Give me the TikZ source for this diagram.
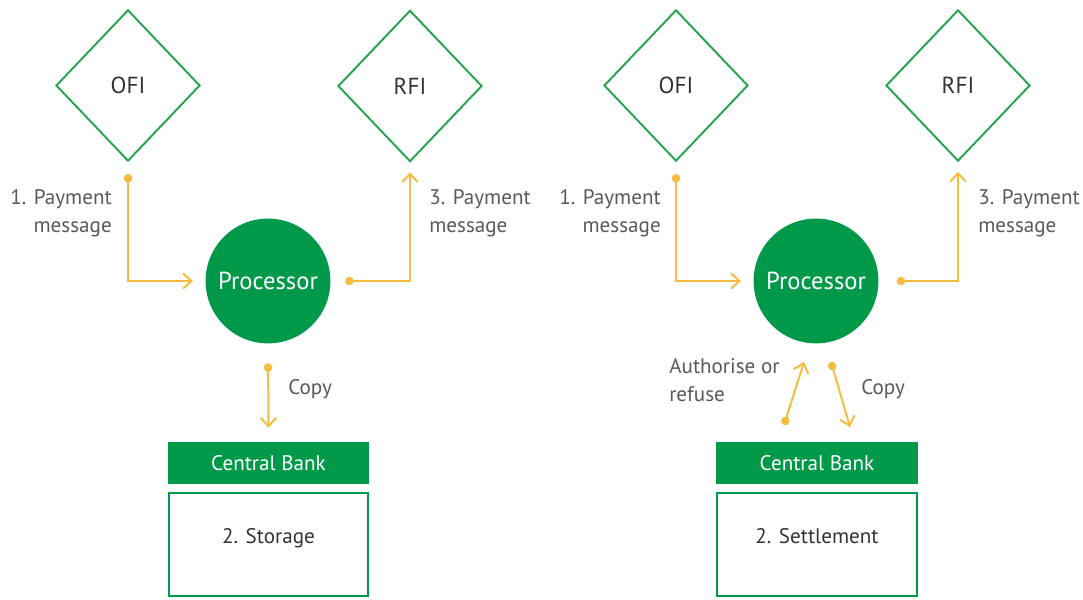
\documentclass[tikz,border=0pt]{standalone}
\usepackage{fontspec}
\setmainfont{PT Sans}
\usetikzlibrary{shapes.geometric}
\usetikzlibrary{arrows.meta}
\usetikzlibrary{positioning}
\definecolor{bankgreen}{HTML}{00994A}
\definecolor{linegreen}{HTML}{2BA34F}
\definecolor{flowyellow}{HTML}{F5BC3F}
\definecolor{labelgray}{HTML}{595959}
\definecolor{namegray}{HTML}{333333}
\tikzset{
  fi/.style={diamond,draw=linegreen,line width=1.4pt,minimum width=3.6cm,minimum height=3.78cm,inner sep=0pt,text=namegray,font=\fontsize{16.5}{18}\selectfont},
  proc/.style={circle,fill=bankgreen,minimum size=3.12cm,inner sep=0pt,text=white,font=\fontsize{17.5}{20}\selectfont},
  cbank/.style={rectangle,fill=bankgreen,minimum width=5.03cm,minimum height=1.05cm,inner sep=0pt,text=white,font=\fontsize{15}{18}\selectfont},
  task/.style={rectangle,draw=bankgreen,line width=1.4pt,minimum width=4.98cm,minimum height=2.58cm,inner sep=0pt,text height=10pt,text depth=12pt,text=namegray,font=\fontsize{15}{18}\selectfont},
  flow/.style={draw=flowyellow,line width=1.4pt,{Circle[length=6pt]}-{Straight Barb[length=6pt,width=11pt]}},
  lbl/.style={text=labelgray,inner sep=0pt,font=\fontsize{15}{20}\selectfont}
}
\begin{document}
\begin{tikzpicture}[x=0.025cm,y=-0.025cm]
\useasboundingbox (0,0) rectangle (1083,599);
% storage
\node[fi] (ofiA) at (128,85.5) {OFI};
\node[fi] (rfiA) at (410,86) {RFI};
\node[proc] (procA) at (268,281) {Processor};
\node[cbank] (cbA) at (268.5,463) {Central Bank};
\node[task] (stA) at (268.5,544.5) {2. Storage};
\draw[flow,shorten <=0.3cm,shorten >=0.31cm] (ofiA.south) |- (procA.west);
\draw[flow,shorten <=0.36cm,shorten >=0.24cm] (procA.east) -| (rfiA.south);
\draw[flow,shorten <=0.49cm,shorten >=0.35cm] (procA.south) -- (cbA.north);
\node[lbl,align=right,anchor=east] (payA1) at (112,213) {1. Payment\\message};
\node[lbl,align=left,anchor=west] (payA3) at (429,213) {3. Payment\\message};
\node[lbl,anchor=west] (copyA) at (288,389) {Copy};
% settlement
\node[fi] (ofiB) at (676,85.5) {OFI};
\node[fi] (rfiB) at (958,85.5) {RFI};
\node[proc] (procB) at (816,281) {Processor};
\node[cbank] (cbB) at (817,463) {Central Bank};
\node[task] (stB) at (817,544.5) {2. Settlement};
\coordinate (authS) at (784,425);
\coordinate (authT) at (804,362);
\coordinate (copyS) at (831,362);
\coordinate (copyT) at (850,427);
\draw[flow,shorten <=0.3cm,shorten >=0.31cm] (ofiB.south) |- (procB.west);
\draw[flow,shorten <=0.45cm,shorten >=0.24cm] (procB.east) -| (rfiB.south);
\draw[flow] (authS) -- (authT);
\draw[flow] (copyS) -- (copyT);
\node[lbl,align=right,anchor=east] (payB1) at (661,213) {1. Payment\\message};
\node[lbl,align=left,anchor=west] (payB3) at (978,213) {3. Payment\\message};
\node[lbl,align=left,anchor=west] (authL) at (669,380) {Authorise or\\refuse};
\node[lbl,anchor=west] (copyB) at (861,389) {Copy};
\end{tikzpicture}
\end{document}
